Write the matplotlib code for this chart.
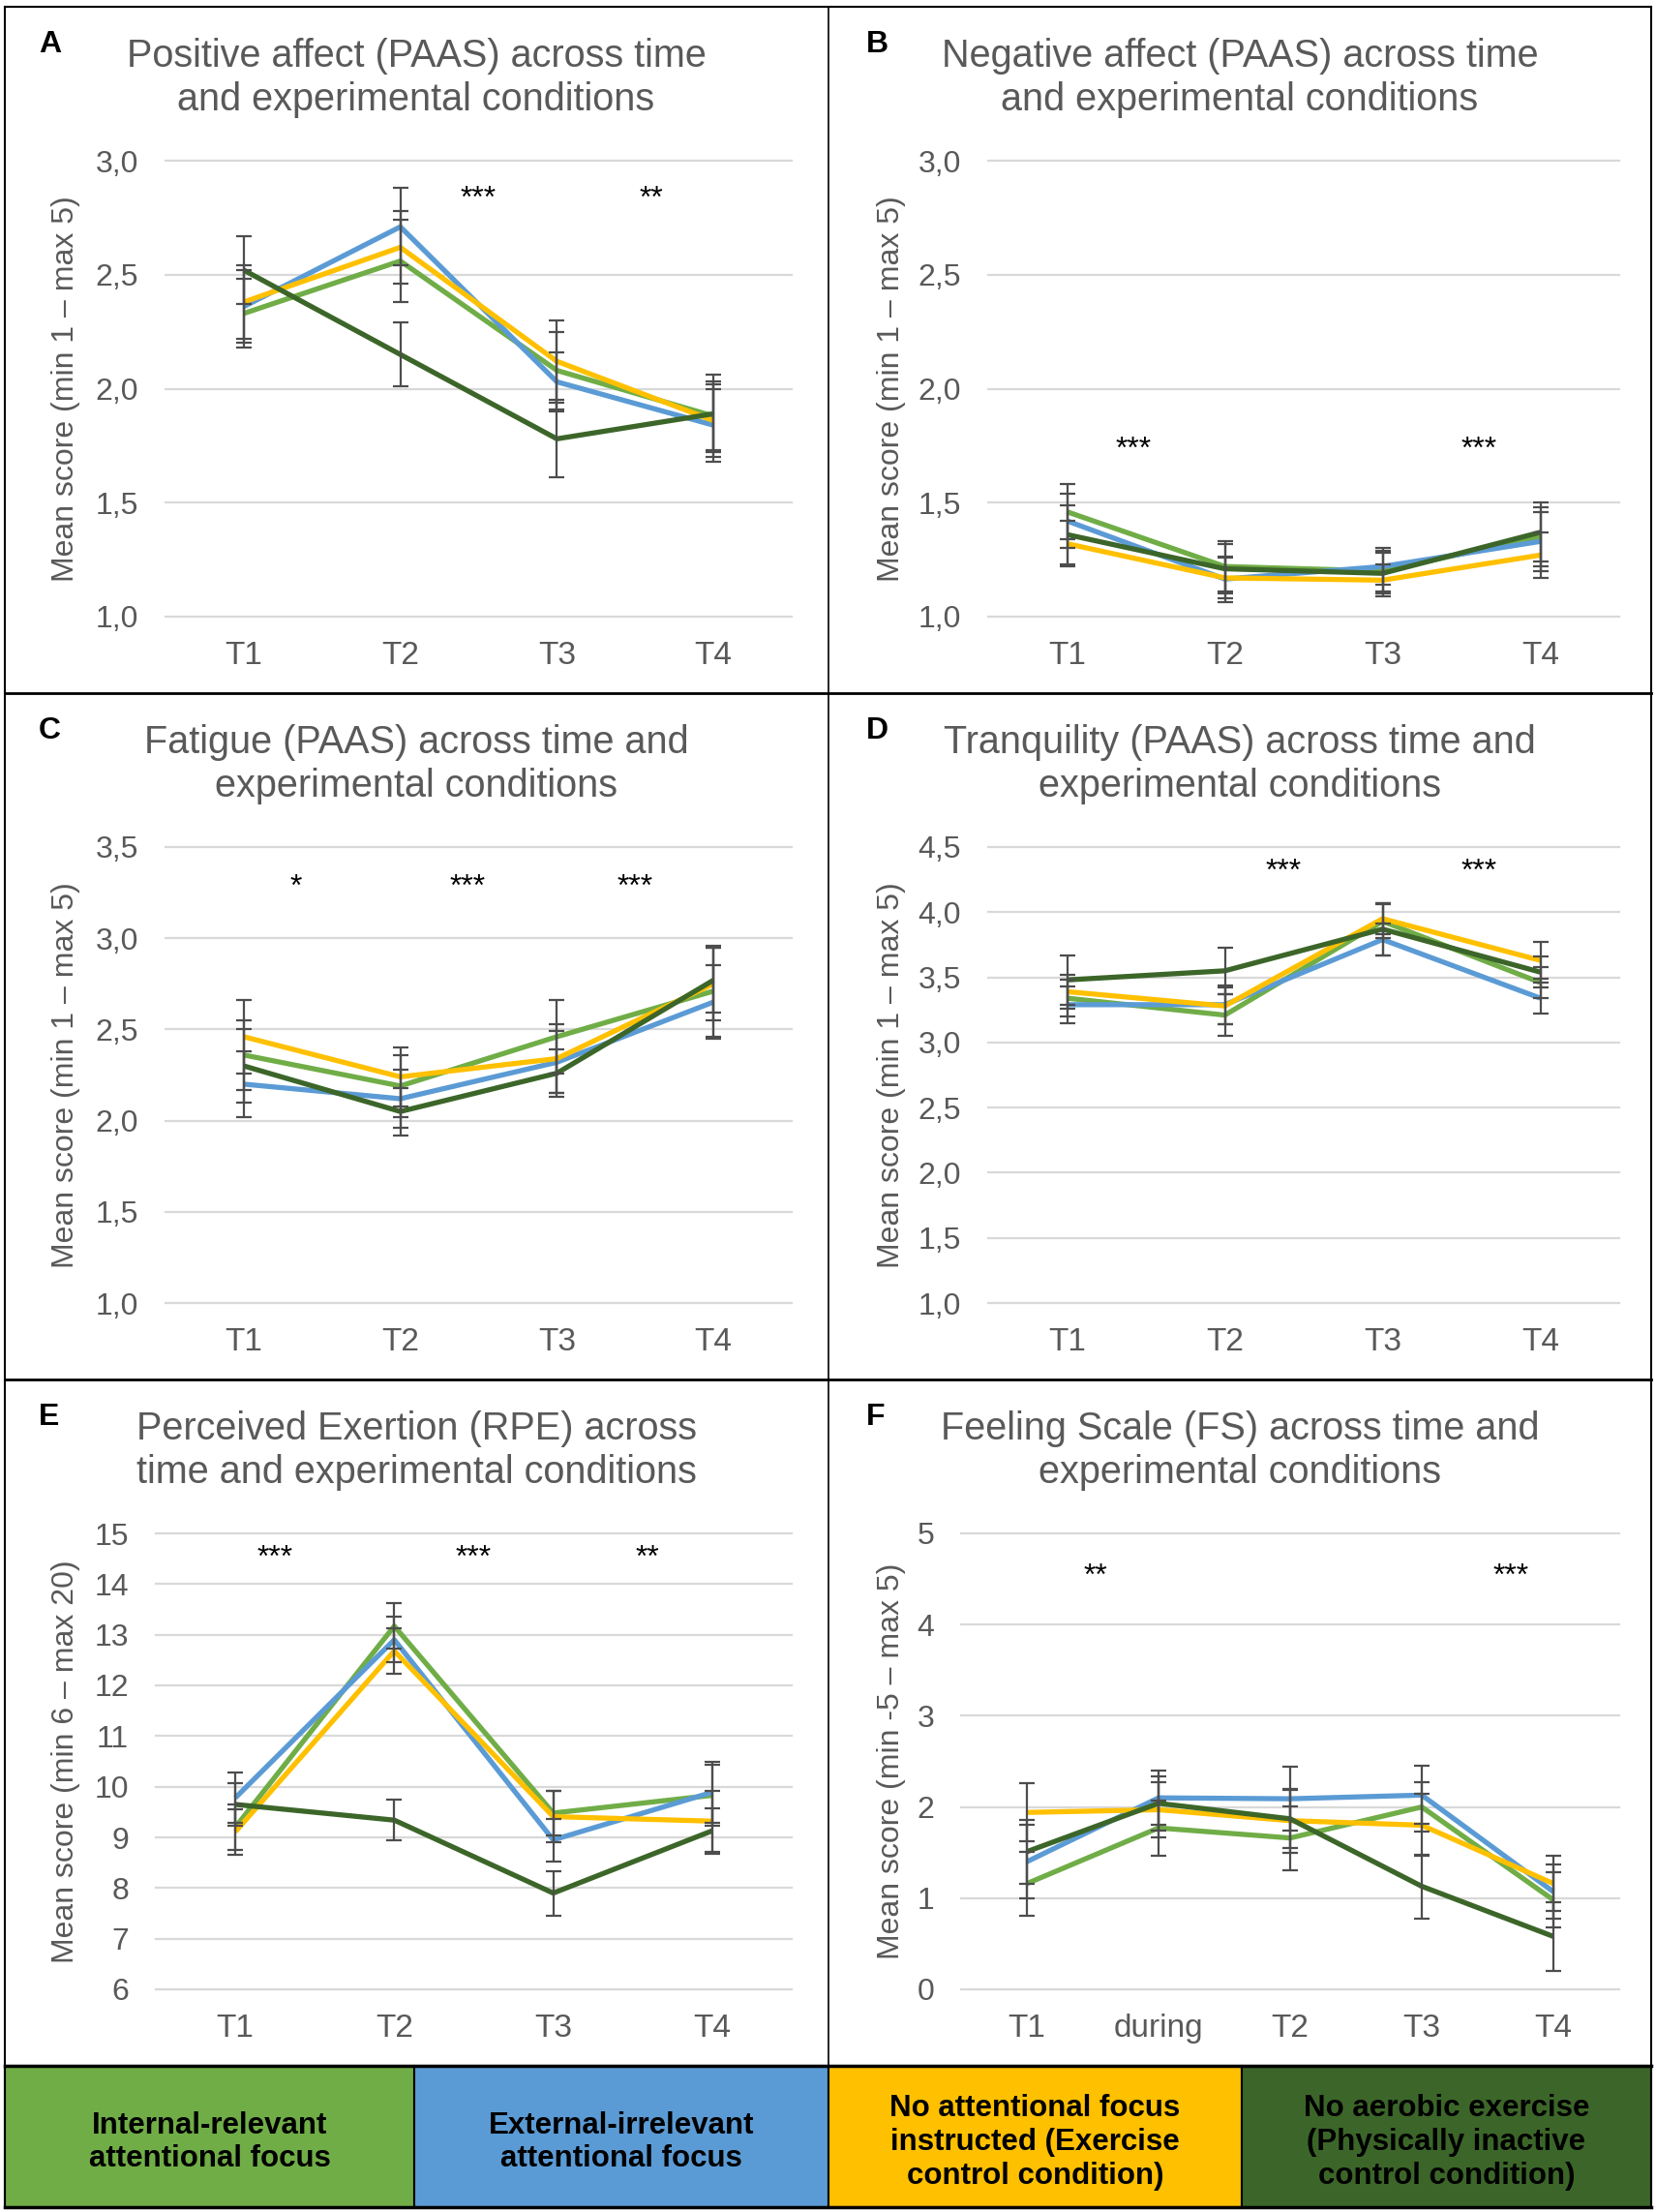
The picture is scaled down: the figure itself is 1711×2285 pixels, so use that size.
import matplotlib
matplotlib.use('Agg')
import matplotlib.pyplot as plt
from matplotlib.patches import Rectangle
from matplotlib.lines import Line2D
from matplotlib.ticker import FuncFormatter, FixedLocator

plt.rcParams['font.family'] = ['Liberation Sans', 'DejaVu Sans']

W, H = 1711, 2285

# condition order: internal, external, no focus, inactive
colors = ['#70AD47', '#5B9BD5', '#FFC000', '#3C6629']
groups = ['Internal-relevant\nattentional focus',
          'External-irrelevant\nattentional focus',
          'No attentional focus\ninstructed (Exercise\ncontrol condition)',
          'No aerobic exercise\n(Physically inactive\ncontrol condition)']

time4 = ['T1', 'T2', 'T3', 'T4']
time5 = ['T1', 'during', 'T2', 'T3', 'T4']

# A - positive affect
pa_mean = [[2.33, 2.56, 2.08, 1.88], [2.36, 2.71, 2.03, 1.84],
           [2.38, 2.62, 2.12, 1.86], [2.52, 2.15, 1.78, 1.89]]
pa_se = [[0.15, 0.18, 0.17, 0.15], [0.16, 0.17, 0.13, 0.16],
         [0.16, 0.16, 0.18, 0.16], [0.15, 0.14, 0.17, 0.17]]

# B - negative affect
na_mean = [[1.46, 1.22, 1.20, 1.35], [1.42, 1.165, 1.22, 1.33],
           [1.32, 1.17, 1.16, 1.27], [1.36, 1.21, 1.19, 1.37]]
na_se = [[0.12, 0.11, 0.09, 0.13], [0.12, 0.10, 0.08, 0.13],
         [0.10, 0.09, 0.07, 0.10], [0.13, 0.11, 0.09, 0.13]]

# C - fatigue
fa_mean = [[2.36, 2.19, 2.46, 2.71], [2.20, 2.12, 2.32, 2.65],
           [2.46, 2.24, 2.34, 2.75], [2.30, 2.05, 2.26, 2.77]]
fa_se = [[0.19, 0.17, 0.20, 0.25], [0.18, 0.16, 0.17, 0.20],
         [0.20, 0.16, 0.19, 0.20], [0.20, 0.13, 0.13, 0.18]]

# D - tranquility
tr_mean = [[3.34, 3.21, 3.93, 3.46], [3.29, 3.29, 3.79, 3.34],
           [3.39, 3.28, 3.95, 3.63], [3.48, 3.55, 3.87, 3.54]]
tr_se = [[0.14, 0.16, 0.13, 0.12], [0.14, 0.15, 0.12, 0.12],
         [0.13, 0.14, 0.12, 0.14], [0.19, 0.18, 0.20, 0.12]]

# E - RPE
rpe_mean = [[9.2, 13.17, 9.48, 9.83], [9.78, 12.9, 8.95, 9.89],
            [9.11, 12.68, 9.41, 9.32], [9.65, 9.34, 7.90, 9.13]]
rpe_se = [[0.45, 0.45, 0.44, 0.6], [0.5, 0.45, 0.42, 0.6],
          [0.45, 0.45, 0.5, 0.6], [0.42, 0.4, 0.44, 0.45]]

# F - feeling scale
fs_mean = [[1.16, 1.77, 1.66, 2.00, 0.98], [1.40, 2.10, 2.09, 2.13, 1.07],
           [1.94, 1.97, 1.85, 1.80, 1.16], [1.51, 2.04, 1.87, 1.13, 0.58]]
fs_se = [[0.35, 0.3, 0.35, 0.27, 0.3], [0.4, 0.3, 0.35, 0.32, 0.3],
         [0.32, 0.3, 0.35, 0.34, 0.3], [0.35, 0.3, 0.32, 0.35, 0.38]]

comma = FuncFormatter(lambda v, _: ('%.1f' % v).replace('.', ','))
integer = FuncFormatter(lambda v, _: '%d' % v)

panels = [
    dict(letter='A', title=['Positive affect (PAAS) across time', 'and experimental conditions'],
         ylabel='Mean score (min 1 \u2013 max 5)', cats=time4, mean=pa_mean, se=pa_se,
         yticks=[1.0, 1.5, 2.0, 2.5, 3.0], fmt=comma,
         stars=[(1.5, 2.83, '***'), (2.6, 2.83, '**')],
         box=(171, 818, 166, 637), col=0, row=0),
    dict(letter='B', title=['Negative affect (PAAS) across time', 'and experimental conditions'],
         ylabel='Mean score (min 1 \u2013 max 5)', cats=time4, mean=na_mean, se=na_se,
         yticks=[1.0, 1.5, 2.0, 2.5, 3.0], fmt=comma,
         stars=[(0.42, 1.73, '***'), (2.61, 1.73, '***')],
         box=(1021, 1673, 166, 637), col=1, row=0),
    dict(letter='C', title=['Fatigue (PAAS) across time and', 'experimental conditions'],
         ylabel='Mean score (min 1 \u2013 max 5)', cats=time4, mean=fa_mean, se=fa_se,
         yticks=[1.0, 1.5, 2.0, 2.5, 3.0, 3.5], fmt=comma,
         stars=[(0.33, 3.28, '*'), (1.43, 3.28, '***'), (2.5, 3.28, '***')],
         box=(171, 818, 875, 1346), col=0, row=1),
    dict(letter='D', title=['Tranquility (PAAS) across time and', 'experimental conditions'],
         ylabel='Mean score (min 1 \u2013 max 5)', cats=time4, mean=tr_mean, se=tr_se,
         yticks=[1.0, 1.5, 2.0, 2.5, 3.0, 3.5, 4.0, 4.5], fmt=comma,
         stars=[(1.37, 4.31, '***'), (2.61, 4.31, '***')],
         box=(1021, 1673, 875, 1346), col=1, row=1),
    dict(letter='E', title=['Perceived Exertion (RPE) across', 'time and experimental conditions'],
         ylabel='Mean score (min 6 \u2013 max 20)', cats=time4, mean=rpe_mean, se=rpe_se,
         yticks=list(range(6, 16)), fmt=integer,
         stars=[(0.25, 14.5, '***'), (1.5, 14.5, '***'), (2.59, 14.5, '**')],
         box=(161, 818, 1584, 2055), col=0, row=2),
    dict(letter='F', title=['Feeling Scale (FS) across time and', 'experimental conditions'],
         ylabel='Mean score (min -5 \u2013 max 5)', cats=time5, mean=fs_mean, se=fs_se,
         yticks=[0, 1, 2, 3, 4, 5], fmt=integer,
         stars=[(0.52, 4.52, '**'), (3.68, 4.52, '***')],
         box=(993, 1673, 1584, 2055), col=1, row=2),
]

gray = '#595959'
fig = plt.figure(figsize=(W / 100, H / 100), dpi=100)

for p in panels:
    l, r, t, b = p['box']
    ax = fig.add_axes([l / W, 1 - b / H, (r - l) / W, (b - t) / H])
    n = len(p['cats'])
    xs = list(range(n))
    for k in range(4):
        ax.plot(xs, p['mean'][k], color=colors[k], lw=3.8, zorder=3,
                solid_capstyle='butt')
    for k in range(4):
        ax.errorbar(xs, p['mean'][k], yerr=p['se'][k], fmt='none', ecolor='#4d4d4d',
                    elinewidth=1.6, capsize=6, capthick=1.6, zorder=4)
    for sx, sy, s in p['stars']:
        ax.text(sx, sy, s, ha='center', va='center', fontsize=23, color='black')
    ax.set_xlim(-0.5, n - 0.5)
    ax.set_ylim(p['yticks'][0], p['yticks'][-1])
    ax.yaxis.set_major_locator(FixedLocator(p['yticks']))
    ax.yaxis.set_major_formatter(p['fmt'])
    ax.set_xticks(xs)
    ax.set_xticklabels(p['cats'])
    ax.tick_params(axis='both', length=0, colors=gray)
    ax.tick_params(axis='y', pad=20, labelsize=23)
    ax.tick_params(axis='x', pad=18, labelsize=24)
    ax.grid(axis='y', color='#D9D9D9', lw=1.6)
    for gl in ax.get_ygridlines():
        gl.set_clip_on(False)
    ax.set_axisbelow(True)
    for sp in ax.spines.values():
        sp.set_visible(False)

    off = p['row'] * 709
    cx = 430 if p['col'] == 0 else 1281
    fig.text(cx / W, 1 - (58 + off) / H, p['title'][0], ha='center', va='center',
             fontsize=28.5, color=gray)
    fig.text(cx / W, 1 - (103 + off) / H, p['title'][1], ha='center', va='center',
             fontsize=28.5, color=gray)
    lx = 40 if p['col'] == 0 else 895
    fig.text(lx / W, 1 - (46 + off) / H, p['letter'], ha='left', va='center',
             fontsize=23, fontweight='bold', color='black')
    yx = 68 if p['col'] == 0 else 921
    fig.text(yx / W, 1 - ((t + b) / 2) / H, p['ylabel'], ha='center', va='center',
             rotation=90, fontsize=23, color=gray)

# legend boxes along the bottom
edges = [5, 428, 856, 1283, 1706]
lt, lb = 2134, 2280
for k in range(4):
    x0, x1 = edges[k], edges[k + 1]
    fig.patches.append(Rectangle((x0 / W, 1 - lb / H), (x1 - x0) / W, (lb - lt) / H,
                                 transform=fig.transFigure, facecolor=colors[k],
                                 edgecolor='black', lw=1.5, zorder=1))
    fig.text((x0 + x1) / 2 / W, 1 - 2213 / H, groups[k], ha='center', va='center',
             fontsize=22.5, fontweight='bold', color='black', linespacing=1.2)

# panel frames
def hline(y, x0, x1, lw=2):
    fig.lines.append(Line2D([x0 / W, x1 / W], [1 - y / H, 1 - y / H],
                            transform=fig.transFigure, color='black', lw=lw))

def vline(x, y0, y1, lw=2):
    fig.lines.append(Line2D([x / W, x / W], [1 - y0 / H, 1 - y1 / H],
                            transform=fig.transFigure, color='black', lw=lw))

hline(7, 5, 1706, 1.5)
hline(716, 5, 1706)
hline(1425, 5, 1706)
hline(2134, 5, 1706, 2.5)
hline(2280, 5, 1706, 2.5)
vline(5, 7, 2280, 1.5)
vline(1706, 7, 2280, 1.5)
vline(856, 7, 2134, 1.2)

fig.savefig('out.png', dpi=100)
